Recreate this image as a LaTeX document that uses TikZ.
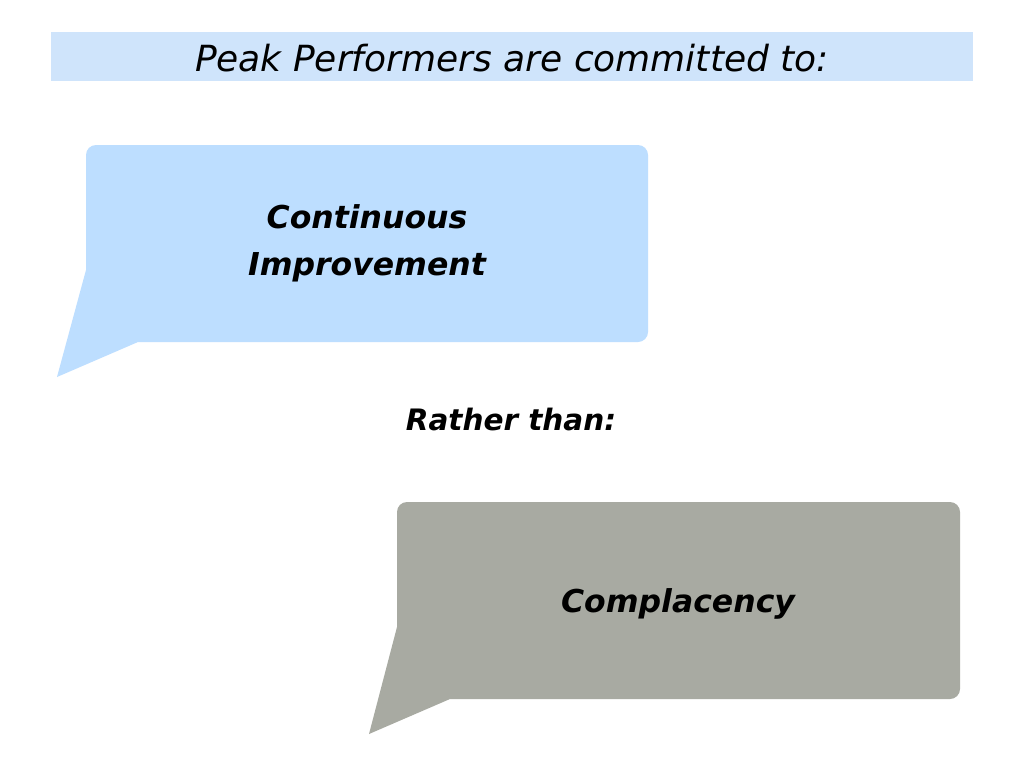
\documentclass[tikz,border=0pt]{standalone}
\usepackage{fontspec}
\setmainfont{DejaVu Sans}
\definecolor{band}{HTML}{CFE4FB}
\definecolor{bubA}{HTML}{BDDEFF}
\definecolor{bubB}{HTML}{A8AAA2}
\tikzset{
  lbl/.style={font=\fontsize{31.5}{47}\selectfont\bfseries\itshape, align=center, text=black},
}
\begin{document}
\begin{tikzpicture}[x=1pt,y=-1pt]
\useasboundingbox (0,0) rectangle (1024,768);
\fill[white] (0,0) rectangle (1024,768);
% title band
\fill[band] (51,32) rectangle (973,81);
\node[font=\fontsize{36}{40}\selectfont\itshape] (title) at (512,58) {Peak Performers are committed to:};
% bubble 1
\fill[bubA] (86,270) -- (86,155) arc[start angle=180,end angle=270,radius=10]
  -- (638,145) arc[start angle=270,end angle=360,radius=10]
  -- (648,332) arc[start angle=0,end angle=90,radius=10]
  -- (138,342) -- (57,377) -- cycle;
\node[lbl] (ci) at (367,243) {Continuous\\Improvement};
% middle text
\node[lbl, font=\fontsize{29.5}{40}\selectfont\bfseries\itshape] (rt) at (511,419) {Rather than:};
% bubble 2
\fill[bubB] (397,627) -- (397,512) arc[start angle=180,end angle=270,radius=10]
  -- (950,502) arc[start angle=270,end angle=360,radius=10]
  -- (960,689) arc[start angle=0,end angle=90,radius=10]
  -- (450,699) -- (369,734) -- cycle;
\node[lbl] (cp) at (678,604) {Complacency};
\end{tikzpicture}
\end{document}
